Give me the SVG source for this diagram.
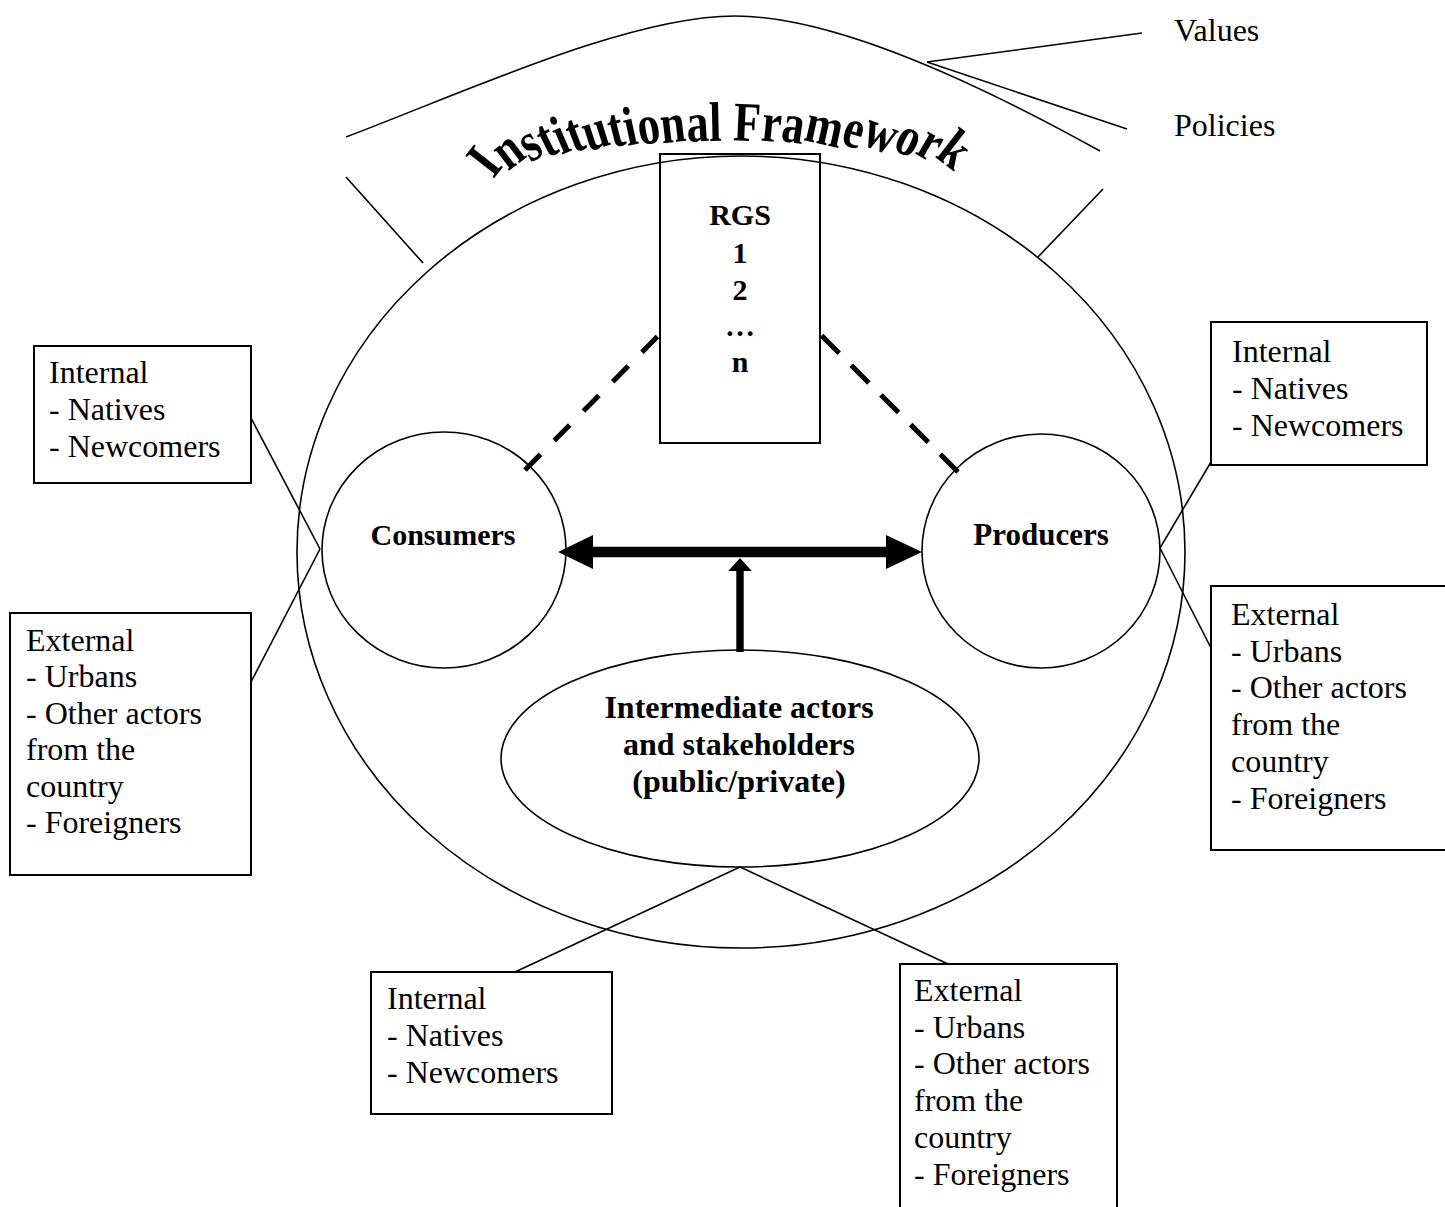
<svg xmlns="http://www.w3.org/2000/svg" width="1445" height="1207" viewBox="0 0 1445 1207">
<defs>
<style>
.ln{fill:none;stroke:#000;stroke-width:1.6}
.box{fill:none;stroke:#000;stroke-width:2}
.dash{fill:none;stroke:#000;stroke-width:5}
.t{font-family:"Liberation Serif","Times New Roman",serif;font-size:32px;fill:#000}
.b{font-family:"Liberation Serif","Times New Roman",serif;font-weight:bold;fill:#000;text-anchor:middle}
</style>
<path id="archPath" d="M492,178 A242,44 0 0 1 970,178"/>
</defs>
<rect x="0" y="0" width="1445" height="1207" fill="#fff"/>

<g id="institutional-framework">
<path class="ln" d="M346,137 C470,90 630,16 735,16 C840,16 990,90 1100,151"/>
<line class="ln" x1="346" y1="177" x2="423" y2="263"/>
<line class="ln" x1="1103" y1="189" x2="1038" y2="257"/>
<text class="b" style="font-size:56px;text-anchor:start" rotate="-20 -18.5 -16.5 -15 -13.8 -12.5 -10.8 -9 -7.8 -6.2 -4.2 -2 -0.6 0.4 2 4 5.8 8.4 10.8 13 15.3 17 19"><textPath href="#archPath" textLength="472" lengthAdjust="spacingAndGlyphs">Institutional Framework</textPath></text>
<ellipse class="ln" cx="741" cy="552" rx="444" ry="396"/>
</g>

<g id="values"><text class="t" x="1174" y="41">Values</text></g>
<g id="policies"><text class="t" x="1174" y="136">Policies</text></g>

<g id="rgs">
<rect class="box" x="660" y="154" width="160" height="289"/>
<text class="b" style="font-size:30px" x="740" y="225">RGS</text>
<text class="b" style="font-size:30px" x="740" y="263">1</text>
<text class="b" style="font-size:30px" x="740" y="300">2</text>
<text class="b" style="font-size:30px" x="740" y="336">…</text>
<text class="b" style="font-size:30px" x="740" y="372">n</text>
</g>

<g id="consumers">
<ellipse class="ln" cx="444" cy="550" rx="122" ry="118"/>
<text class="b" style="font-size:30px" x="443" y="545">Consumers</text>
</g>

<g id="producers">
<ellipse class="ln" cx="1041" cy="551" rx="119" ry="117"/>
<text class="b" style="font-size:31px" x="1041" y="545">Producers</text>
</g>

<g id="intermediate">
<ellipse class="ln" cx="740" cy="758.5" rx="239" ry="108.5"/>
<text class="b" style="font-size:32px" x="739" y="718">Intermediate actors</text>
<text class="b" style="font-size:32px" x="739" y="755">and stakeholders</text>
<text class="b" style="font-size:32px" x="739" y="792">(public/private)</text>
</g>

<g id="consumers-internal">
<rect class="box" x="34" y="346" width="217" height="137"/>
<text class="t" x="49" y="383">Internal</text>
<text class="t" x="49" y="420">- Natives</text>
<text class="t" x="49" y="457">- Newcomers</text>
</g>

<g id="consumers-external">
<rect class="box" x="10" y="613" width="241" height="262"/>
<text class="t" x="26" y="651">External</text>
<text class="t" x="26" y="687">- Urbans</text>
<text class="t" x="26" y="724">- Other actors</text>
<text class="t" x="26" y="760">from the</text>
<text class="t" x="26" y="797">country</text>
<text class="t" x="26" y="833">- Foreigners</text>
</g>

<g id="producers-internal">
<rect class="box" x="1211" y="322" width="216" height="143"/>
<text class="t" x="1232" y="362">Internal</text>
<text class="t" x="1232" y="399">- Natives</text>
<text class="t" x="1232" y="436">- Newcomers</text>
</g>

<g id="producers-external">
<rect class="box" x="1211" y="586" width="238" height="264"/>
<text class="t" x="1231" y="625">External</text>
<text class="t" x="1231" y="662">- Urbans</text>
<text class="t" x="1231" y="698">- Other actors</text>
<text class="t" x="1231" y="735">from the</text>
<text class="t" x="1231" y="772">country</text>
<text class="t" x="1231" y="809">- Foreigners</text>
</g>

<g id="intermediate-internal">
<rect class="box" x="371" y="972" width="241" height="142"/>
<text class="t" x="387" y="1009">Internal</text>
<text class="t" x="387" y="1046">- Natives</text>
<text class="t" x="387" y="1083">- Newcomers</text>
</g>

<g id="intermediate-external">
<rect class="box" x="900" y="964" width="217" height="260"/>
<text class="t" x="914" y="1001">External</text>
<text class="t" x="914" y="1038">- Urbans</text>
<text class="t" x="914" y="1074">- Other actors</text>
<text class="t" x="914" y="1111">from the</text>
<text class="t" x="914" y="1148">country</text>
<text class="t" x="914" y="1185">- Foreigners</text>
</g>

<g id="connectors">
<line class="ln" x1="927" y1="62" x2="1142" y2="33"/>
<line class="ln" x1="927" y1="62" x2="1127" y2="129"/>
<line class="dash" x1="525" y1="470" x2="659" y2="335" stroke-dasharray="22 19.5"/>
<line class="dash" x1="958" y1="472" x2="821" y2="335" stroke-dasharray="25 17"/>
<polygon fill="#000" points="558,552 593,535 593,546.7 886,546.7 886,535 922,552 886,569 886,557.3 593,557.3 593,569"/>
<rect fill="#000" x="736.3" y="570" width="7.4" height="82"/>
<polygon fill="#000" points="740,558 751.7,571 728.3,571"/>
<line class="ln" x1="251" y1="418" x2="320" y2="549"/>
<line class="ln" x1="320" y1="549" x2="251" y2="682"/>
<line class="ln" x1="1160" y1="548" x2="1211" y2="462"/>
<line class="ln" x1="1160" y1="548" x2="1211" y2="648"/>
<line class="ln" x1="740" y1="867" x2="515" y2="972"/>
<line class="ln" x1="740" y1="867" x2="948" y2="964"/>
</g>
</svg>
